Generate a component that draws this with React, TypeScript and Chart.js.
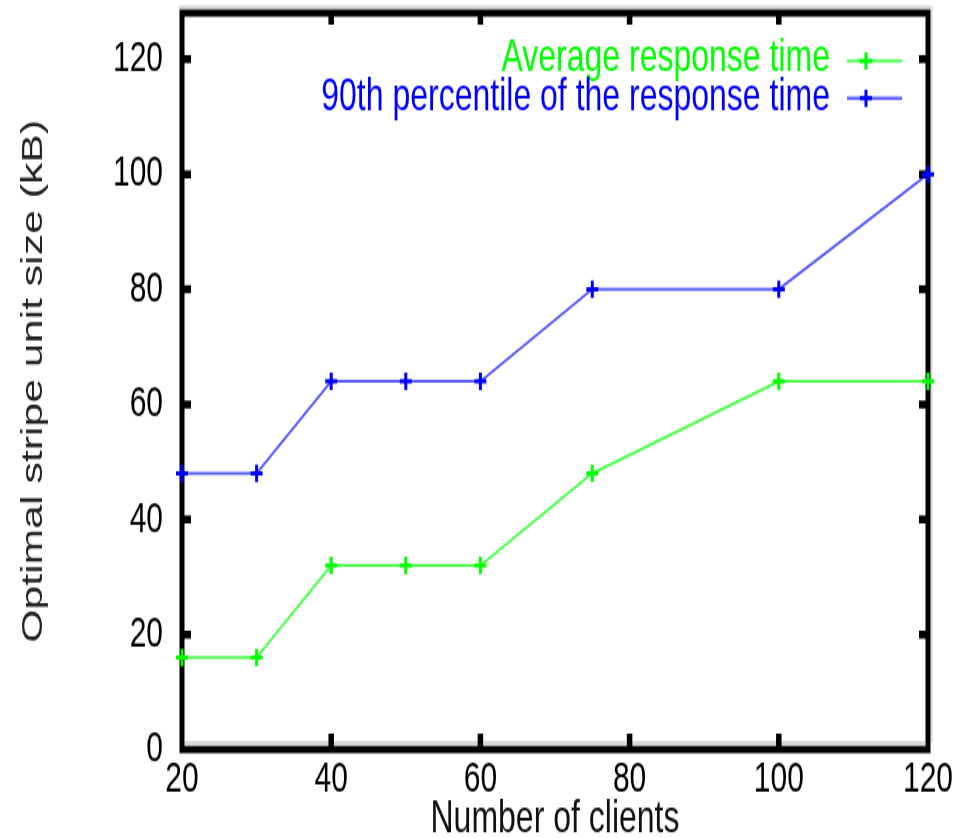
import React, { useEffect, useRef } from 'react';
import { Chart, registerables } from 'chart.js';

Chart.register(...registerables);

// ---- data ----
const clients = [20, 30, 40, 50, 60, 75, 100, 120];
const avgResponse = [16, 16, 32, 32, 32, 48, 64, 64];
const p90Response = [48, 48, 64, 64, 64, 80, 80, 100];
const seriesLabels = ['Average response time', '90th percentile of the response time'];
const seriesColors = ['#00ff00', '#0000ff'];
const xTitle = 'Number of clients';
const yTitle = 'Optimal stripe unit size (kB)';

// ---- layout (internal canvas is stretched vertically like the reference) ----
const W = 964;
const H = 578;
const DISPLAY_H = 838;
const FONT = "'Liberation Sans', Arial, Helvetica, sans-serif";

const framePlugin = {
  id: 'gpFrame',
  beforeDatasetsDraw(chart: any) {
    const { ctx, chartArea: a, scales } = chart;
    ctx.save();
    // light grey shadow lines
    ctx.fillStyle = '#d9d9d9';
    ctx.fillRect(a.left - 3, a.top - 5.3, a.right - a.left + 5, 2.7);
    ctx.fillRect(a.right + 2.5, a.top - 5.3, 2, a.bottom - a.top);
    ctx.fillRect(a.left + 3, a.bottom - 6, a.right - a.left - 6, 3);
    // frame
    ctx.strokeStyle = '#000';
    ctx.lineWidth = 5;
    ctx.lineJoin = 'miter';
    ctx.strokeRect(a.left, a.top, a.right - a.left, a.bottom - a.top);
    // inward ticks on all four sides
    ctx.lineWidth = 5.5;
    ctx.lineCap = 'butt';
    ctx.beginPath();
    const xs = scales.x;
    xs.ticks.forEach((t: any) => {
      if (t.value <= xs.min || t.value >= xs.max) return;
      const px = xs.getPixelForValue(t.value);
      ctx.moveTo(px, a.bottom);
      ctx.lineTo(px, a.bottom - 11);
      ctx.moveTo(px, a.top);
      ctx.lineTo(px, a.top + 8);
    });
    const ys = scales.y;
    ys.ticks.forEach((t: any) => {
      if (t.value <= ys.min || t.value >= ys.max) return;
      const py = ys.getPixelForValue(t.value);
      ctx.moveTo(a.left, py);
      ctx.lineTo(a.left + 9, py);
      ctx.moveTo(a.right, py);
      ctx.lineTo(a.right - 9, py);
    });
    ctx.stroke();
    ctx.restore();
  },
};

const legendPlugin = {
  id: 'gpLegend',
  afterDraw(chart: any) {
    const { ctx } = chart;
    const rows = [
      { textY: 49.4, lineY: 41.9 },
      { textY: 75.9, lineY: 67.8 },
    ];
    chart.data.datasets.forEach((ds: any, i: number) => {
      const r = rows[i];
      ctx.save();
      ctx.font = `32px ${FONT}`;
      ctx.fillStyle = ds.borderColor;
      ctx.textAlign = 'right';
      ctx.textBaseline = 'alphabetic';
      ctx.fillText(ds.label, 830, r.textY);
      ctx.strokeStyle = ds.borderColor;
      ctx.globalAlpha = 0.6;
      ctx.lineWidth = 2.5;
      ctx.beginPath();
      ctx.moveTo(847, r.lineY);
      ctx.lineTo(902, r.lineY);
      ctx.stroke();
      ctx.globalAlpha = 1;
      ctx.lineWidth = 3;
      ctx.beginPath();
      ctx.moveTo(860, r.lineY);
      ctx.lineTo(872, r.lineY);
      ctx.moveTo(866, r.lineY - 6);
      ctx.lineTo(866, r.lineY + 6);
      ctx.stroke();
      ctx.restore();
    });
  },
};

function makeDataset(label: string, values: number[], color: string, lineColor: string) {
  return {
    label,
    data: clients.map((x, i) => ({ x, y: values[i] })),
    borderColor: color,
    backgroundColor: color,
    borderWidth: 2,
    pointStyle: 'cross',
    pointRadius: 6,
    pointBorderWidth: 3,
    pointBorderColor: color,
    pointBackgroundColor: color,
    segment: { borderColor: lineColor },
    tension: 0,
    fill: false,
    clip: false,
  };
}

export default function App() {
  const canvasRef = useRef<HTMLCanvasElement | null>(null);

  useEffect(() => {
    const canvas = canvasRef.current;
    if (!canvas) return;
    const chart = new Chart(canvas, {
      type: 'line',
      data: {
        datasets: [
          makeDataset(seriesLabels[0], avgResponse, seriesColors[0], 'rgba(0,255,0,0.7)'),
          makeDataset(seriesLabels[1], p90Response, seriesColors[1], 'rgba(0,0,255,0.65)'),
        ] as any,
      },
      options: {
        responsive: false,
        animation: false,
        devicePixelRatio: 1,
        layout: { padding: { top: 8, right: 36, left: 0, bottom: 0 } },
        plugins: {
          legend: { display: false },
          tooltip: { enabled: false },
        },
        scales: {
          x: {
            type: 'linear',
            position: 'bottom',
            min: 20,
            max: 120,
            ticks: {
              stepSize: 20,
              padding: 3,
              color: '#000',
              maxRotation: 0,
              font: { family: FONT, size: 30 },
            },
            grid: { display: false, drawTicks: false },
            border: { display: false },
            title: {
              display: true,
              text: xTitle,
              color: '#111',
              font: { family: FONT, size: 32, lineHeight: 0.5 },
              padding: { top: 0, bottom: 5 },
            },
            afterFit: (s: any) => {
              s.height = 61;
              s.paddingLeft = 0;
              s.paddingRight = 0;
              s.paddingTop = 0;
              s.paddingBottom = 0;
            },
          },
          y: {
            type: 'linear',
            min: 0,
            max: 128,
            ticks: {
              stepSize: 20,
              includeBounds: false,
              padding: 19,
              color: '#000',
              font: { family: FONT, size: 30 },
            },
            grid: { display: false, drawTicks: false },
            border: { display: false },
            title: {
              display: true,
              text: yTitle,
              color: '#222',
              font: { family: FONT, size: 29.5 },
              padding: { top: 16, bottom: 0 },
            },
            afterFit: (s: any) => {
              s.width = 182;
              s.paddingLeft = 0;
              s.paddingRight = 0;
              s.paddingTop = 0;
              s.paddingBottom = 0;
            },
          },
        },
      } as any,
      plugins: [framePlugin, legendPlugin],
    });
    return () => chart.destroy();
  }, []);

  return (
    <div style={{ position: 'absolute', left: 0, top: 0, width: W, height: DISPLAY_H, background: '#fff' }}>
      <canvas
        ref={canvasRef}
        width={W}
        height={H}
        style={{ display: 'block', width: `${W}px`, height: `${DISPLAY_H}px` }}
      />
    </div>
  );
}
